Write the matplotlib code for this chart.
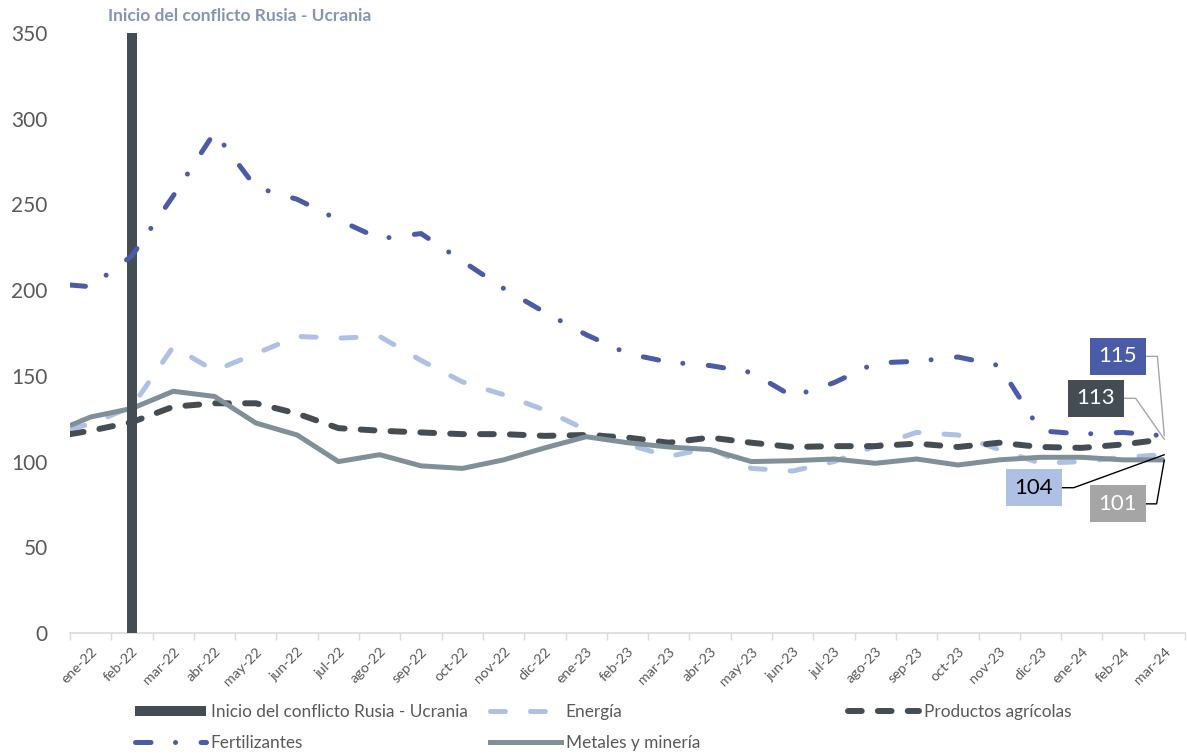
import matplotlib
matplotlib.use("Agg")
import matplotlib.pyplot as plt
from matplotlib.patches import Patch
from matplotlib.lines import Line2D
import numpy as np

plt.rcParams['font.family'] = ['Lato', 'DejaVu Sans']

meses = ['ene-22', 'feb-22', 'mar-22', 'abr-22', 'may-22', 'jun-22', 'jul-22',
         'ago-22', 'sep-22', 'oct-22', 'nov-22', 'dic-22', 'ene-23', 'feb-23',
         'mar-23', 'abr-23', 'may-23', 'jun-23', 'jul-23', 'ago-23', 'sep-23',
         'oct-23', 'nov-23', 'dic-23', 'ene-24', 'feb-24', 'mar-24']

energia = [122, 132, 167, 153, 163, 173, 172, 173, 159, 146.5, 139, 130, 118.5,
           110, 103, 108, 96, 94.5, 100, 109, 117, 115.5, 107, 99, 100, 102.5, 104]
agricolas = [118, 123, 132, 134, 134, 128, 119.5, 118, 117, 116, 116, 115, 115.5,
             114, 111, 114, 111, 108.5, 109, 109, 110.5, 108.5, 111, 108.5, 108, 110, 113]
fertilizantes = [202, 220, 255, 292, 260, 253, 241, 230, 233, 217, 201, 187, 174,
                 163, 158, 156, 152, 138, 146, 157.5, 158.5, 161, 156, 118, 116, 117, 115]
metales = [126, 131, 141, 138, 122.5, 115.5, 100, 104, 97.5, 96, 101, 108, 114.5,
           111, 108.5, 107, 100, 100.5, 101.5, 99, 101.5, 98, 101, 102.5, 102.5, 101, 101]

# value where each line enters at the left edge of the axis
inicio_linea = {'energia': 119, 'agricolas': 116, 'fertilizantes': 203, 'metales': 121}

conflicto_mes = 'feb-22'
conflicto_valor = 350

c_energia = '#aec1e4'
c_agri = '#454d54'
c_fert = '#4a5ba8'
c_metal = '#7f9098'
c_gris = '#a5a5a5'
c_texto = '#595959'

fig = plt.figure(figsize=(11.87, 7.55), dpi=100)
ax = fig.add_axes([70 / 1187, 1 - 633 / 755, 1115 / 1187, 600 / 755])

x = np.arange(len(meses))
xl = np.r_[-0.5, x]

ax.plot(xl, [inicio_linea['energia']] + energia, color=c_energia, lw=3.6,
        ls=(0, (3, 5)), dash_capstyle='round', zorder=2)
ax.plot(xl, [inicio_linea['agricolas']] + agricolas, color=c_agri, lw=4.3,
        ls=(0, (2.3, 2.7)), dash_capstyle='round', zorder=3)
ax.plot(xl, [inicio_linea['metales']] + metales, color=c_metal, lw=3.6,
        solid_capstyle='butt', zorder=4)
ax.bar([meses.index(conflicto_mes)], [conflicto_valor], width=0.24, color=c_agri, zorder=5)
ax.plot(xl, [inicio_linea['fertilizantes']] + fertilizantes, color=c_fert, lw=3.6,
        ls=(0, (3.1, 4.9, 0.01, 5.1)), dash_capstyle='round', zorder=6)

ax.annotate('Inicio del conflicto Rusia - Ucrania',
            xy=(meses.index(conflicto_mes), conflicto_valor), xytext=(108, 17),
            textcoords='offset pixels', ha='center', va='center',
            fontsize=12.5, fontweight='bold', color='#8496b0')

# etiquetas del último valor
etiquetas = [
    (fertilizantes[-1], c_fert, 'white', '#a6a6a6', (-46.5, 79.5), 95),
    (agricolas[-1], c_agri, 'white', '#a6a6a6', (-68.5, 41), 125),
    (energia[-1], c_energia, 'black', 'black', (-130.5, -33), 200),
    (metales[-1], c_gris, 'white', 'black', (-46.5, -44), 260),
]
for val, fondo, ctexto, clinea, off, angb in etiquetas:
    ax.annotate(f'{val:.0f}', xy=(x[-1], val), xytext=off, textcoords='offset pixels',
                ha='center', va='center', fontsize=16, color=ctexto, zorder=8,
                bbox=dict(boxstyle='square,pad=0.38', fc=fondo, ec='none'),
                arrowprops=dict(arrowstyle='-', color=clinea, lw=1, relpos=(1, 0.5),
                                shrinkA=0, shrinkB=0,
                                connectionstyle=f'angle,angleA=0,angleB={angb},rad=0'))

ax.set_xlim(-0.5, len(meses) - 0.5)
ax.set_ylim(0, 350)
ax.set_yticks(np.arange(0, 351, 50))
ax.set_xticks(x)
ax.set_xticklabels(meses, rotation=45, ha='right', va='top', rotation_mode='anchor',
                   fontsize=10.3, color=c_texto)
ax.set_xticks(np.arange(-0.5, len(meses)), minor=True)
ax.tick_params(axis='x', which='major', length=0, pad=9)
ax.tick_params(axis='x', which='minor', length=5, color='#d9d9d9', width=1)
ax.tick_params(axis='y', length=0, pad=16, labelsize=15, labelcolor=c_texto)

for s in ['top', 'right', 'left']:
    ax.spines[s].set_visible(False)
ax.spines['bottom'].set_color('#d9d9d9')
ax.spines['bottom'].set_linewidth(1.2)

h_conf = Patch(facecolor=c_agri, edgecolor='none')
h_fert = Line2D([], [], color=c_fert, lw=3.6, ls=(0, (3.1, 4.9, 0.01, 5.1)), dash_capstyle='round')
h_ener = Line2D([], [], color=c_energia, lw=3.6, ls=(0, (3, 5)), dash_capstyle='round')
h_metal = Line2D([], [], color=c_metal, lw=3.6)
h_agri = Line2D([], [], color=c_agri, lw=4.3, ls=(0, (2.3, 2.7)), dash_capstyle='round')

columnas = [
    ([h_conf, h_fert], ['Inicio del conflicto Rusia - Ucrania', 'Fertilizantes'], 135),
    ([h_ener, h_metal], ['Energía', 'Metales y minería'], 490),
    ([h_agri], ['Productos agrícolas'], 848),
]
for hs, ls, px in columnas:
    fig.legend(hs, ls, loc='upper left', bbox_to_anchor=(px / 1187, 1 - 704 / 755),
               frameon=False, fontsize=12.4, labelcolor=c_texto, handlelength=4.1,
               handleheight=0.55, handletextpad=0.3, labelspacing=0.85,
               borderpad=0, borderaxespad=0)

fig.savefig('out.png', dpi=100, facecolor='white')
